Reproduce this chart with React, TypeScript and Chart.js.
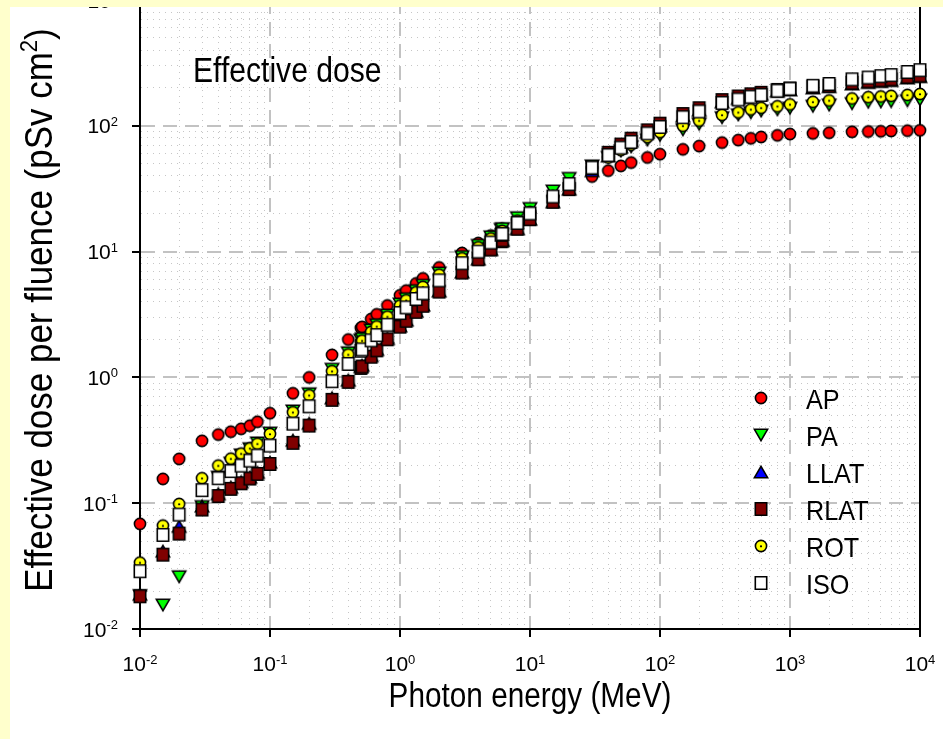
import { useEffect, useRef } from 'react';
import { Chart, registerables } from 'chart.js';

Chart.register(...registerables);

// Photon energy grid (MeV)
const energies = [
  0.01, 0.015, 0.02, 0.03, 0.04, 0.05, 0.06, 0.07, 0.08, 0.1,
  0.15, 0.2, 0.3, 0.4, 0.5, 0.511, 0.6, 0.662, 0.8, 1,
  1.117, 1.33, 1.5, 2, 3, 4, 5, 6, 6.129, 8,
  10, 15, 20, 30, 40, 50, 60, 80, 100, 150,
  200, 300, 400, 500, 600, 800, 1000, 1500, 2000, 3000,
  4000, 5000, 6000, 8000, 10000,
];

// Effective dose per fluence (pSv cm^2) for each irradiation geometry
const apValues = [
  0.0685, 0.156, 0.225, 0.313, 0.351, 0.370, 0.390, 0.413, 0.444, 0.519,
  0.748, 1.00, 1.51, 2.00, 2.47, 2.52, 2.91, 3.17, 3.73, 4.49,
  4.90, 5.59, 6.12, 7.48, 9.75, 11.7, 13.4, 15.0, 15.2, 18.0,
  20.8, 27.2, 32.5, 39.5, 44.0, 48.0, 51.0, 56.0, 59.5, 65.0,
  69.0, 73.5, 77.0, 79.5, 81.5, 84.0, 86.0, 87.0, 88.0, 89.5,
  90.0, 90.5, 91.0, 91.5, 92.0,
];
const paValues = [
  0.0184, 0.0155, 0.0260, 0.0940, 0.161, 0.208, 0.242, 0.271, 0.301, 0.361,
  0.541, 0.741, 1.16, 1.57, 1.98, 2.03, 2.38, 2.62, 3.13, 3.83,
  4.22, 4.89, 5.39, 6.75, 9.12, 11.2, 13.1, 15.0, 15.2, 18.6,
  22.0, 30.3, 38.2, 48.0, 56.0, 63.0, 68.0, 77.0, 84.0, 93.0,
  103, 116, 122, 127, 131, 134, 138, 143, 146, 150,
  154, 155, 156, 158, 161,
];
const llatValues = [
  0.0189, 0.0416, 0.0655, 0.0950, 0.119, 0.134, 0.148, 0.161, 0.176, 0.212,
  0.317, 0.432, 0.688, 0.952, 1.22, 1.25, 1.49, 1.67, 2.04, 2.57,
  2.86, 3.37, 3.76, 4.87, 6.89, 8.73, 10.4, 12.1, 12.3, 15.2,
  18.1, 24.9, 31.4, 44.0, 57.5, 68.0, 76.0, 89.0, 100, 120,
  133, 155, 165, 172, 178, 188, 193, 200, 205, 215,
  221, 225, 229, 240, 246,
];
const rlatValues = [
  0.0182, 0.0390, 0.0573, 0.0891, 0.114, 0.130, 0.144, 0.157, 0.171, 0.205,
  0.302, 0.414, 0.663, 0.922, 1.19, 1.22, 1.46, 1.64, 2.01, 2.53,
  2.82, 3.32, 3.71, 4.81, 6.81, 8.69, 10.4, 12.1, 12.3, 15.2,
  18.1, 24.9, 31.4, 46.0, 61.0, 71.0, 79.0, 92.0, 104, 124,
  138, 160, 171, 178, 183, 193, 198, 204, 208, 220,
  226, 230, 234, 245, 251,
];
const rotValues = [
  0.0337, 0.0664, 0.0986, 0.158, 0.199, 0.226, 0.248, 0.273, 0.297, 0.355,
  0.528, 0.721, 1.12, 1.52, 1.92, 1.96, 2.30, 2.54, 3.04, 3.72,
  4.10, 4.75, 5.24, 6.55, 8.84, 10.8, 12.7, 14.4, 14.6, 17.6,
  20.6, 27.7, 34.4, 46.1, 56.0, 64.1, 70.9, 81.3, 89.0, 100,
  110, 122, 128, 135, 139, 143, 148, 155, 159, 165,
  169, 171, 173, 176, 179,
];
const isoValues = [
  0.0288, 0.0560, 0.0812, 0.127, 0.158, 0.180, 0.199, 0.218, 0.239, 0.287,
  0.429, 0.589, 0.932, 1.28, 1.63, 1.67, 1.97, 2.17, 2.62, 3.25,
  3.60, 4.20, 4.66, 5.90, 8.08, 10.0, 11.8, 13.6, 13.8, 16.9,
  20.1, 27.4, 34.4, 46.5, 58.5, 67.0, 74.5, 87.0, 98.0, 117,
  130, 152, 162, 170, 176, 190, 197, 208, 215, 234,
  242, 248, 253, 268, 277,
];

const seriesLabels = ['AP', 'PA', 'LLAT', 'RLAT', 'ROT', 'ISO'];

// Decade exponents used for the tick labels
const xTickExponents = [-2, -1, 0, 1, 2, 3, 4];
const yTickExponents = [-2, -1, 0, 1, 2, 3];

const xTitle = 'Photon energy (MeV)';
const yTitleMain = 'Effective dose per fluence (pSv cm';
const yTitleSup = '2';
const yTitleEnd = ')';
const panelLabel = 'Effective dose';

const FONT = '"Liberation Sans", Arial, Helvetica, sans-serif';
const PAGE_BG = '#FFFFCC';

type MarkerKind = 'circle' | 'down' | 'up' | 'square';

function makeMarker(kind: MarkerKind, fill: string, dot = false): HTMLCanvasElement {
  const c = document.createElement('canvas');
  c.width = 20;
  c.height = 20;
  const g = c.getContext('2d')!;
  const cx = 10;
  const cy = 10;
  g.fillStyle = fill;
  g.strokeStyle = '#000';
  g.lineWidth = 1.6;
  g.lineJoin = 'miter';
  g.beginPath();
  if (kind === 'circle') {
    g.arc(cx, cy, 5.6, 0, Math.PI * 2);
  } else if (kind === 'down') {
    g.moveTo(cx - 6.6, cy - 5.7);
    g.lineTo(cx + 6.6, cy - 5.7);
    g.lineTo(cx, cy + 5.7);
    g.closePath();
  } else if (kind === 'up') {
    g.moveTo(cx - 6.6, cy + 5.7);
    g.lineTo(cx + 6.6, cy + 5.7);
    g.lineTo(cx, cy - 5.7);
    g.closePath();
  } else {
    g.rect(cx - 5.7, cy - 6.3, 11.4, 12.6);
  }
  g.fill();
  g.stroke();
  if (dot) {
    g.beginPath();
    g.fillStyle = '#000';
    g.arc(cx, cy + 0.3, 1.1, 0, Math.PI * 2);
    g.fill();
  }
  return c;
}

function logTicks(lo: number, hi: number) {
  const ticks: { value: number; major: boolean }[] = [];
  for (let e = lo; e < hi; e++) {
    for (let m = 1; m <= 9; m++) {
      ticks.push({ value: parseFloat((m * Math.pow(10, e)).toPrecision(6)), major: m === 1 });
    }
  }
  ticks.push({ value: Math.pow(10, hi), major: true });
  return ticks;
}

function drawScaledText(
  ctx: CanvasRenderingContext2D,
  text: string,
  x: number,
  y: number,
  size: number,
  sx: number,
  align: CanvasTextAlign = 'left',
) {
  ctx.save();
  ctx.font = `${size}px ${FONT}`;
  ctx.translate(x, y);
  ctx.scale(sx, 1);
  ctx.textAlign = align;
  ctx.textBaseline = 'alphabetic';
  ctx.fillStyle = '#000';
  ctx.fillText(text, 0, 0);
  ctx.restore();
}

// "10" with a raised exponent; anchor is the centre (x axis) or right edge (y axis)
function drawPower(
  ctx: CanvasRenderingContext2D,
  exp: number,
  anchorX: number,
  baseline: number,
  mode: 'center' | 'right',
) {
  const baseSize = 21;
  const expSize = 13;
  ctx.save();
  ctx.fillStyle = '#000';
  ctx.textBaseline = 'alphabetic';
  ctx.textAlign = 'left';
  ctx.font = `${baseSize}px ${FONT}`;
  const wBase = ctx.measureText('10').width;
  ctx.font = `${expSize}px ${FONT}`;
  const expText = String(exp);
  const wExp = ctx.measureText(expText).width;
  const total = wBase + wExp;
  const left = mode === 'center' ? anchorX - total / 2 : anchorX - total;
  ctx.font = `${baseSize}px ${FONT}`;
  ctx.fillText('10', left, baseline);
  ctx.font = `${expSize}px ${FONT}`;
  ctx.fillText(expText, left + wBase, baseline - 7.5);
  ctx.restore();
}

const gridOptions = {
  color: (c: any) => (c.tick && c.tick.major ? '#c2c2c2' : '#c6c6c6'),
  lineWidth: (c: any) => (c.tick && c.tick.major ? 2 : 1),
  drawTicks: true,
  tickLength: 8,
  tickWidth: 2,
  tickColor: (c: any) => (c.tick && c.tick.major ? '#000' : 'rgba(0,0,0,0)'),
};

const borderOptions = {
  display: true,
  color: '#000',
  width: 2,
  dash: (c: any) => (c.tick && c.tick.major ? [14, 8] : [1, 5]),
};

export default function App() {
  const canvasRef = useRef<HTMLCanvasElement | null>(null);

  useEffect(() => {
    const canvas = canvasRef.current;
    if (!canvas) return;

    const markers = [
      makeMarker('circle', '#ff0000'),
      makeMarker('down', '#00ff00'),
      makeMarker('up', '#0000ff'),
      makeMarker('square', '#800000'),
      makeMarker('circle', '#ffff00', true),
      makeMarker('square', '#ffffff'),
    ];
    const valueSets = [apValues, paValues, llatValues, rlatValues, rotValues, isoValues];

    const datasets = seriesLabels.map((label, si) => ({
      label,
      data: energies.map((e, i) => ({ x: e, y: valueSets[si][i] })),
      pointStyle: markers[si] as any,
      pointRadius: 6,
      pointHoverRadius: 6,
      showLine: false,
      clip: false as any,
      // later geometries sit on top of earlier ones
      order: seriesLabels.length - si,
    }));

    const decor = {
      id: 'decor',
      beforeDraw(chart: any) {
        const { ctx, width, height } = chart;
        ctx.save();
        ctx.fillStyle = '#ffffff';
        ctx.fillRect(0, 0, width, height);
        ctx.restore();
      },
      beforeDatasetsDraw(chart: any) {
        const { ctx, chartArea } = chart;
        ctx.save();
        ctx.strokeStyle = '#000';
        ctx.lineWidth = 2;
        ctx.setLineDash([]);
        ctx.beginPath();
        ctx.moveTo(Math.round(chartArea.right), chartArea.top);
        ctx.lineTo(Math.round(chartArea.right), chartArea.bottom + 1);
        ctx.moveTo(chartArea.left, chartArea.top);
        ctx.lineTo(chartArea.right, chartArea.top);
        ctx.stroke();
        ctx.restore();
      },
      afterDraw(chart: any) {
        const { ctx, chartArea, width, height } = chart;
        const xs = chart.scales.x;
        const ys = chart.scales.y;

        xTickExponents.forEach((e) => {
          drawPower(ctx, e, xs.getPixelForValue(Math.pow(10, e)), 671, 'center');
        });
        yTickExponents.forEach((e) => {
          drawPower(ctx, e, 118, ys.getPixelForValue(Math.pow(10, e)) + 7.5, 'right');
        });

        // axis titles
        drawScaledText(ctx, xTitle, (chartArea.left + chartArea.right) / 2, 707, 35, 0.85, 'center');

        ctx.save();
        ctx.fillStyle = '#000';
        ctx.textBaseline = 'alphabetic';
        ctx.textAlign = 'left';
        const mainSize = 38;
        const supSize = 24;
        ctx.font = `${mainSize}px ${FONT}`;
        const wMain = ctx.measureText(yTitleMain).width;
        const wEnd = ctx.measureText(yTitleEnd).width;
        ctx.font = `${supSize}px ${FONT}`;
        const wSup = ctx.measureText(yTitleSup).width;
        const total = wMain + wSup + wEnd;
        ctx.translate(52, 310);
        ctx.rotate(-Math.PI / 2);
        ctx.scale(0.92, 1);
        let cx = -total / 2;
        ctx.font = `${mainSize}px ${FONT}`;
        ctx.fillText(yTitleMain, cx, 0);
        cx += wMain;
        ctx.font = `${supSize}px ${FONT}`;
        ctx.fillText(yTitleSup, cx, -15);
        cx += wSup;
        ctx.font = `${mainSize}px ${FONT}`;
        ctx.fillText(yTitleEnd, cx, 0);
        ctx.restore();

        // panel label
        drawScaledText(ctx, panelLabel, 193, 82, 35, 0.86, 'left');

        // legend
        seriesLabels.forEach((label, i) => {
          const rowY = 398 + i * 37;
          const m = markers[i];
          ctx.drawImage(m, 761 - m.width / 2, rowY - m.height / 2);
          drawScaledText(ctx, label, 806, rowY + 10.5, 28, 0.9, 'left');
        });

        // page border
        ctx.save();
        ctx.fillStyle = PAGE_BG;
        ctx.fillRect(0, 0, width, 7);
        ctx.fillRect(0, 0, 10, height);
        ctx.restore();
      },
    };

    const chart = new Chart(canvas, {
      type: 'scatter',
      data: { datasets: datasets as any },
      options: {
        responsive: false,
        animation: false,
        devicePixelRatio: 1,
        events: [],
        layout: { autoPadding: false, padding: { left: 10, right: 23, top: 0, bottom: 0 } },
        plugins: {
          legend: { display: false },
          tooltip: { enabled: false },
          title: { display: false },
        },
        scales: {
          x: {
            type: 'logarithmic',
            position: 'bottom',
            min: 0.01,
            max: 10000,
            afterBuildTicks: (scale: any) => {
              scale.ticks = logTicks(-2, 4);
            },
            afterFit: (scale: any) => {
              scale.height = 110;
            },
            ticks: { display: false },
            grid: gridOptions as any,
            border: borderOptions as any,
          },
          y: {
            type: 'logarithmic',
            position: 'left',
            min: 0.01,
            max: 1000,
            afterBuildTicks: (scale: any) => {
              scale.ticks = logTicks(-2, 3);
            },
            afterFit: (scale: any) => {
              scale.width = 130;
            },
            ticks: { display: false },
            grid: gridOptions as any,
            border: borderOptions as any,
          },
        },
      },
      plugins: [decor],
    });

    return () => {
      chart.destroy();
    };
  }, []);

  return (
    <div style={{ position: 'fixed', left: 0, top: 0, width: 943, height: 739, background: PAGE_BG }}>
      <canvas ref={canvasRef} width={943} height={739} style={{ display: 'block' }} />
    </div>
  );
}
